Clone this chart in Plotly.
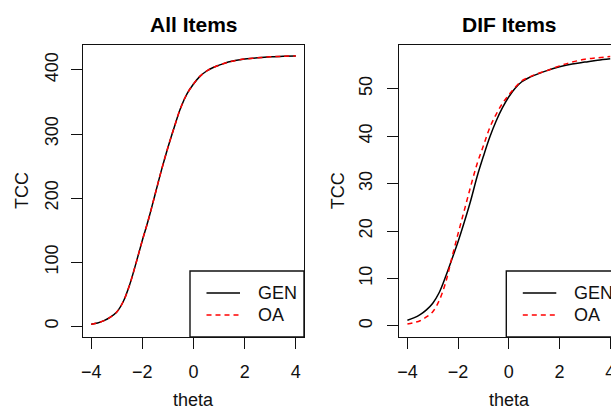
import plotly.graph_objects as go

# ---------------- data ----------------
theta_all = [-4.0, -3.75, -3.5, -3.25, -3.0, -2.75, -2.5, -2.25, -2.0, -1.75, -1.5, -1.25,
             -1.0, -0.75, -0.5, -0.25, 0.0, 0.25, 0.5, 0.75, 1.0, 1.25, 1.5, 1.75, 2.0,
             2.5, 3.0, 3.5, 4.0]
all_gen = [3, 5, 8.5, 14, 22, 38, 64, 98, 134, 168, 206, 244,
           279, 311, 341, 363, 378, 390, 398, 403.5, 407.5, 411, 413.5, 415.5, 417,
           419, 420.5, 421.3, 422]
all_oa = [3, 5, 8.5, 14, 22, 38, 64, 98, 134, 168, 206, 244,
          279, 311, 341, 363, 378, 390, 398, 403.5, 407.5, 411, 413.5, 415.5, 417,
          419, 420.5, 421.3, 422]

theta_dif = [-4.0, -3.75, -3.5, -3.25, -3.0, -2.75, -2.5, -2.25, -2.0, -1.75, -1.5, -1.25,
             -1.0, -0.75, -0.5, -0.25, 0.0, 0.25, 0.5, 0.75, 1.0, 1.5, 2.0, 2.5, 3.0,
             3.5, 4.0]
dif_gen = [1.2, 1.7, 2.4, 3.4, 4.8, 7.0, 10.3, 14.0, 17.8, 22.0, 26.5, 31.5,
           35.8, 39.8, 43.2, 46.0, 48.3, 50.1, 51.4, 52.2, 52.8, 53.8, 54.6, 55.2, 55.6,
           56.0, 56.3]
dif_oa = [0.4, 0.7, 1.1, 1.9, 3.0, 5.3, 9.0, 14.3, 19.5, 24.5, 29.5, 34.2,
          38.0, 41.8, 44.6, 46.9, 48.7, 50.3, 51.6, 52.3, 52.9, 53.8, 54.8, 55.6, 56.2,
          56.5, 56.8]

x_ticks = [-4, -2, 0, 2, 4]
all_y_ticks = [0, 100, 200, 300, 400]
dif_y_ticks = [0, 10, 20, 30, 40, 50]
panel_titles = ["All Items", "DIF Items"]
series_names = ["GEN", "OA"]
x_label = "theta"
y_label = "TCC"

# ---------------- layout helpers ----------------
W, H = 611, 410
FONT = "Liberation Sans, Arial, Helvetica, sans-serif"
FS = 18


def px(x):
    return x / W


def py(y):
    return 1 - y / H


fig = go.Figure()

GEN_LINE = dict(color="black", width=1.5)
OA_LINE = dict(color="#ff0000", width=1.5, dash="5px,4px")

fig.add_trace(go.Scatter(x=theta_all, y=all_gen, mode="lines", line=GEN_LINE,
                         line_shape="spline", name=series_names[0], xaxis="x", yaxis="y"))
fig.add_trace(go.Scatter(x=theta_all, y=all_oa, mode="lines", line=OA_LINE,
                         line_shape="spline", name=series_names[1], xaxis="x", yaxis="y"))
fig.add_trace(go.Scatter(x=theta_dif, y=dif_gen, mode="lines", line=GEN_LINE,
                         line_shape="spline", name=series_names[0], xaxis="x2", yaxis="y2"))
fig.add_trace(go.Scatter(x=theta_dif, y=dif_oa, mode="lines", line=OA_LINE,
                         line_shape="spline", name=series_names[1], xaxis="x2", yaxis="y2"))

LW = 1.4
ydom = [py(337), py(45)]
common = dict(showgrid=False, zeroline=False, showline=True, linecolor="#111",
              linewidth=LW, ticks="outside", ticklen=11, tickwidth=LW, tickcolor="#111",
              tickfont=dict(family=FONT, size=FS, color="#111"), automargin=False,
              ticklabeloverflow="allow")

fig.update_layout(
    width=W, height=H,
    margin=dict(l=0, r=0, t=0, b=0),
    paper_bgcolor="white", plot_bgcolor="white",
    showlegend=False,
    xaxis=dict(domain=[px(83), px(304)], range=[-4.32, 4.32], tickvals=x_ticks,
               mirror=True, anchor="y", ticklabelstandoff=7, **common),
    yaxis=dict(domain=ydom, range=[-17, 439], tickvals=all_y_ticks, tickangle=-90,
               mirror=True, anchor="x", ticklabelstandoff=6, **common),
    xaxis2=dict(domain=[px(399.3), 1.0], range=[-4.32, 4.03], tickvals=x_ticks,
                mirror=True, anchor="y2", ticklabelstandoff=7, **common),
    yaxis2=dict(domain=ydom, range=[-2.32, 59.2], tickvals=dif_y_ticks, tickangle=-90,
                mirror=False, anchor="x2", ticklabelstandoff=8, **common),
)

annotations = []
shapes = []
panels = [(83, 304), (399.3, 620.3)]
for (x0, x1), title in zip(panels, panel_titles):
    cx = (x0 + x1) / 2
    annotations.append(dict(text="<b>%s</b>" % title, x=px(cx), y=py(24), xref="paper", yref="paper",
                            showarrow=False, xanchor="center", yanchor="middle",
                            font=dict(family=FONT, size=21, color="black")))
    annotations.append(dict(text=x_label, x=px(cx), y=py(400), xref="paper", yref="paper",
                            showarrow=False, xanchor="center", yanchor="middle",
                            font=dict(family=FONT, size=FS, color="#111")))
    annotations.append(dict(text=y_label, x=px(x0 - 61), y=py(191), xref="paper", yref="paper",
                            showarrow=False, xanchor="center", yanchor="middle", textangle=-90,
                            font=dict(family=FONT, size=FS, color="#111")))
    # legend box (bottom right of the panel)
    lx0 = x1 - 114
    shapes.append(dict(type="rect", xref="paper", yref="paper", x0=px(lx0), x1=px(x1),
                       y0=py(337), y1=py(271), line=dict(color="#111", width=LW),
                       fillcolor="white", layer="above"))
    for yy, name, ln in [(293, series_names[0], GEN_LINE), (315, series_names[1], OA_LINE)]:
        shapes.append(dict(type="line", xref="paper", yref="paper", x0=px(lx0 + 16.5),
                           x1=px(lx0 + 50), y0=py(yy), y1=py(yy), line=ln, layer="above"))
        annotations.append(dict(text=name, x=px(lx0 + 66), y=py(yy), xref="paper", yref="paper",
                                showarrow=False, xanchor="left", yanchor="middle",
                                font=dict(family=FONT, size=FS, color="#111")))

fig.update_layout(annotations=annotations, shapes=shapes)
fig.write_html("out.html", config={"displayModeBar": False},
               post_script="document.body.style.margin='0';document.body.style.overflow='hidden';")
